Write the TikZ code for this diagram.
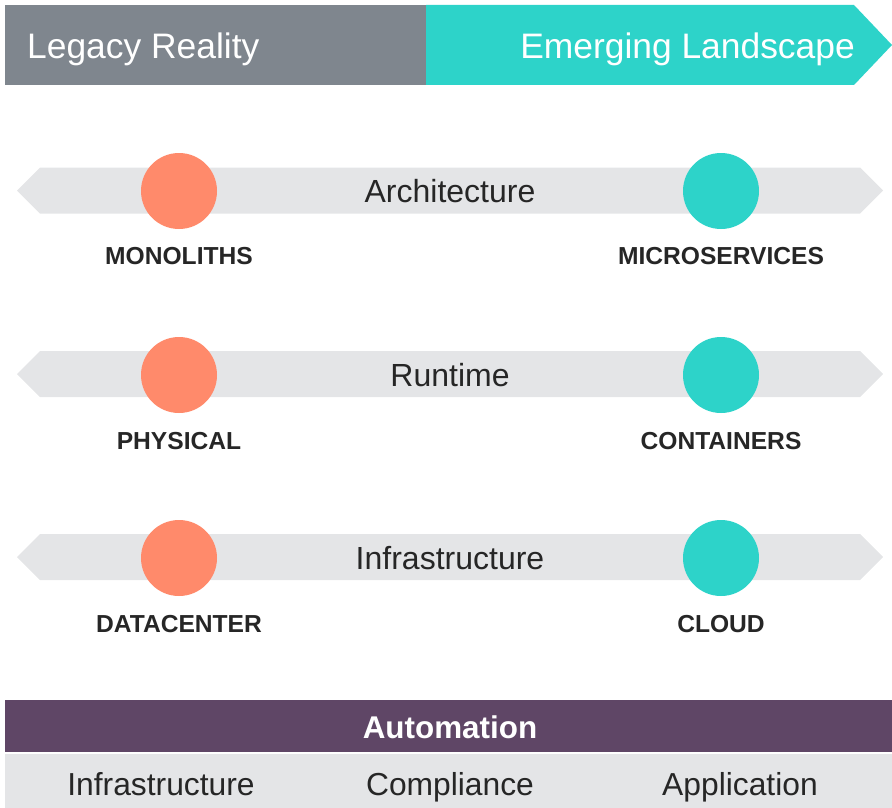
\documentclass[tikz,border=0pt]{standalone}
\usepackage{fontspec}
\setmainfont{Liberation Sans}
\definecolor{hdrgray}{HTML}{7F868E}
\definecolor{teal2}{HTML}{2DD3C9}
\definecolor{coral}{HTML}{FF8A6B}
\definecolor{bandgray}{HTML}{E4E5E7}
\definecolor{plum}{HTML}{5F4666}
\definecolor{ink}{HTML}{262626}
\tikzset{
  hdrtext/.style={text=white,font=\fontsize{35.4}{40}\selectfont,inner sep=0pt,anchor=base},
  bandtext/.style={text=ink,font=\fontsize{32}{36}\selectfont,inner sep=0pt,anchor=base},
  lbl/.style={text=ink,font=\bfseries\fontsize{24.6}{28}\selectfont,inner sep=0pt,anchor=base},
  dotold/.style={circle,fill=coral,minimum size=76pt,inner sep=0pt},
  dotnew/.style={circle,fill=teal2,minimum size=76pt,inner sep=0pt},
  autotext/.style={text=white,font=\bfseries\fontsize{31.4}{35}\selectfont,inner sep=0pt,anchor=base},
  subtext/.style={text=ink,font=\fontsize{31.8}{36}\selectfont,inner sep=0pt,anchor=base}
}
\begin{document}
\begin{tikzpicture}[x=1pt,y=-1pt]
\useasboundingbox (0,0) rectangle (892,808);
% header
\fill[hdrgray] (5,5) rectangle (426,85);
\fill[teal2] (426,5) -- (854,5) -- (892,45) -- (854,85) -- (426,85) -- cycle;
\node[hdrtext,anchor=base west] (legacy) at (27,59) {Legacy Reality};
\node[hdrtext,anchor=base east] (emerging) at (855,59) {Emerging Landscape};
% bands
\foreach \yc in {190.5,374,557}{
  \fill[bandgray] (17,\yc) -- (40,\yc-23) -- (860,\yc-23) -- (883,\yc) -- (860,\yc+23) -- (40,\yc+23) -- cycle;
}
% row 1
\node[dotold] (monoDot) at (179,191) {};
\node[dotnew] (microDot) at (721,191) {};
\node[bandtext] (arch) at (450,202.5) {Architecture};
\node[lbl] (mono) at (179,264) {MONOLITHS};
\node[lbl] (micro) at (721,264) {MICROSERVICES};
% row 2
\node[dotold] (physDot) at (179,375) {};
\node[dotnew] (contDot) at (721,375) {};
\node[bandtext] (runtime) at (450,386) {Runtime};
\node[lbl] (phys) at (179,449) {PHYSICAL};
\node[lbl] (cont) at (721,449) {CONTAINERS};
% row 3
\node[dotold] (dcDot) at (179,558) {};
\node[dotnew] (cloudDot) at (721,558) {};
\node[bandtext] (infra) at (450,569) {Infrastructure};
\node[lbl] (dc) at (179,632) {DATACENTER};
\node[lbl] (cloud) at (721,632) {CLOUD};
% bottom
\fill[plum] (5,700) rectangle (892,752);
\fill[bandgray] (5,754) rectangle (892,808);
\node[autotext] (auto) at (450,738) {Automation};
\node[subtext] (sinfra) at (161,795) {Infrastructure};
\node[subtext] (scomp) at (450,795) {Compliance};
\node[subtext] (sapp) at (740,795) {Application};
\end{tikzpicture}
\end{document}
